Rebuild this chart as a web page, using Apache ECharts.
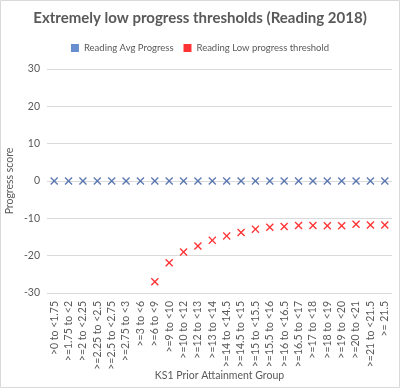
<!DOCTYPE html>
<html>
<head>
<meta charset="utf-8">
<script src="https://cdn.jsdelivr.net/npm/echarts@6/dist/echarts.min.js"></script>
<style>html,body{margin:0;padding:0;background:#fff}#c{width:400px;height:388px}</style>
</head>
<body>
<div id="c"></div>
<script>
var categories = [">0 to <1.75", ">=1.75 to <2", ">=2 to <2.25", ">=2.25 to <2.5", ">=2.5 to <2.75", ">=2.75 to <3", ">=3 to <6", ">=6 to <9", ">=9 to <10", ">=10 to <12", ">=12 to <13", ">=13 to <14", ">=14 to <14.5", ">=14.5 to <15", ">=15 to <15.5", ">=15.5 to <16", ">=16 to <16.5", ">=16.5 to <17", ">=17 to <18", ">=18 to <19", ">=19 to <20", ">=20 to <21", ">=21 to <21.5", ">= 21.5"];
var avgProgress = [0, 0, 0, 0, 0, 0, 0, 0, 0, 0, 0, 0, 0, 0, 0, 0, 0, 0, 0, 0, 0, 0, 0, 0];
var lowThreshold = [null, null, null, null, null, null, null, -27.0, -21.9, -19.0, -17.4, -15.9, -14.7, -13.8, -12.9, -12.4, -12.2, -11.9, -11.9, -12.0, -12.0, -11.6, -11.8, -11.8];
var yTicks = [-30, -20, -10, 0, 10, 20, 30];

var FONT = 'Lato';
var XSYM = 'path://M0,1.2L1.2,0L5,3.8L8.8,0L10,1.2L6.2,5L10,8.8L8.8,10L5,6.2L1.2,10L0,8.8L3.8,5Z';
var chart = echarts.init(document.getElementById('c'), null, {renderer: 'canvas'});
chart.setOption({
  animation: false,
  backgroundColor: '#fff',
  textStyle: {fontFamily: FONT},
  graphic: [{type: 'rect', shape: {x: 0.5, y: 0.5, width: 399, height: 387}, style: {fill: 'none', stroke: '#d9d9d9', lineWidth: 1}, silent: true}],
  title: {
    text: 'Extremely low progress thresholds (Reading 2018)',
    left: 'center', top: 6,
    textStyle: {fontFamily: FONT, fontSize: 15, fontWeight: 'bold', color: '#595959'}
  },
  legend: {
    top: 38, left: 'center', itemWidth: 8, itemHeight: 8, itemGap: 10,
    textStyle: {fontFamily: FONT, fontSize: 9.5, color: '#595959'},
    data: [{name: 'Reading Avg Progress', icon: 'rect', itemStyle: {color: '#4472C4'}},
           {name: 'Reading Low progress threshold', icon: 'rect', itemStyle: {color: '#FF0000'}}]
  },
  grid: {left: 47, right: 8, top: 69, bottom: 95, containLabel: false, outerBoundsMode: 'none'},
  xAxis: {
    type: 'category', data: categories, boundaryGap: true,
    name: 'KS1 Prior Attainment Group', nameLocation: 'middle', nameGap: 77, nameMoveOverlap: false,
    nameTextStyle: {fontFamily: FONT, fontSize: 10.5, color: '#595959'},
    axisLine: {show: false}, axisTick: {show: false},
    axisLabel: {rotate: 90, interval: 0, fontSize: 10.5, color: '#595959', margin: 8, fontFamily: FONT},
    splitLine: {show: false}
  },
  yAxis: {
    type: 'value', min: -30, max: 30, interval: 10,
    name: 'Progress score', nameLocation: 'middle', nameGap: 32, nameRotate: 90, nameMoveOverlap: false,
    nameTextStyle: {fontFamily: FONT, fontSize: 10.5, color: '#595959'},
    axisLine: {show: false}, axisTick: {show: false},
    axisLabel: {fontSize: 10.5, color: '#595959', margin: 7, fontFamily: FONT,
      formatter: function (v) { return yTicks.indexOf(v) >= 0 ? String(v) : ''; }},
    splitLine: {lineStyle: {color: '#d9d9d9', width: 1}}
  },
  series: [
    {name: 'Reading Avg Progress', type: 'scatter', data: avgProgress, symbol: XSYM, symbolSize: 8,
     itemStyle: {color: '#35589f'}},
    {name: 'Reading Low progress threshold', type: 'scatter', data: lowThreshold, symbol: XSYM, symbolSize: 8,
     itemStyle: {color: '#FF0000'}}
  ]
});
</script>
</body>
</html>
